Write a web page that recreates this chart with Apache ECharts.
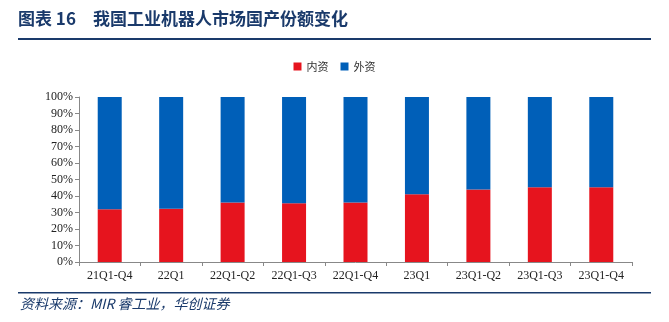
<!DOCTYPE html>
<html><head><meta charset="utf-8">
<script src="https://cdn.jsdelivr.net/npm/echarts@6/dist/echarts.min.js"></script>
<style>html,body{margin:0;padding:0;background:#fff;}#c{width:669px;height:322px;}</style>
</head><body><div id="c"></div>
<script>
const categories = ['21Q1-Q4','22Q1','22Q1-Q2','22Q1-Q3','22Q1-Q4','23Q1','23Q1-Q2','23Q1-Q3','23Q1-Q4'];
const domestic = [31.9, 32.2, 36.1, 35.6, 36.0, 41.0, 44.0, 45.3, 45.3];
const foreign = [68.1, 67.8, 63.9, 64.4, 64.0, 59.0, 56.0, 54.7, 54.7];
const seriesNames = ['内资','外资'];
const titleText = '图表 16　我国工业机器人市场国产份额变化';
const sourceText = '资料来源：MIR 睿工业，华创证券';

const chart = echarts.init(document.getElementById('c'));
const serif = '"Liberation Serif", "Times New Roman", serif';
chart.setOption({
  animation: false,
  graphic: [
    {type:'text', left:18, top:10, style:{text:titleText, font:'bold 17px "Noto Sans CJK SC"', fill:'#1a3a6b'}},
    {type:'rect', shape:{x:18, y:38, width:633, height:2}, style:{fill:'#1a3a6b'}},
    {type:'rect', shape:{x:18, y:292, width:633, height:1.5}, style:{fill:'#1a3a6b'}},
    {type:'text', left:20, top:297, style:{text:sourceText, font:'italic 14px "Noto Sans CJK SC"', fill:'#1a3a6b'}}
  ],
  legend: {
    top: 56, left: 'center', itemWidth: 8, itemHeight: 8, itemGap: 12,
    icon: 'rect',
    textStyle: {fontSize: 11, color: '#333', fontFamily: '"Noto Sans CJK SC"'},
    data: seriesNames
  },
  grid: {left: 79, right: 37, top: 97, bottom: 60},
  xAxis: {
    type: 'category', data: categories,
    axisLine: {lineStyle: {color: '#888'}},
    axisTick: {show: true, lineStyle: {color: '#888'}, length: 4},
    axisLabel: {color: '#222', fontFamily: serif, fontSize: 12, margin: 8}
  },
  yAxis: {
    type: 'value', min: 0, max: 100, interval: 10,
    axisLine: {show: true, lineStyle: {color: '#888'}},
    axisTick: {show: true, lineStyle: {color: '#888'}, length: 4},
    splitLine: {show: false},
    axisLabel: {formatter: '{value}%', color: '#222', fontFamily: serif, fontSize: 12, margin: 6}
  },
  series: [
    {name: seriesNames[0], type: 'bar', stack: 's', data: domestic, barWidth: 24, itemStyle: {color: '#e6141e'}},
    {name: seriesNames[1], type: 'bar', stack: 's', data: foreign, barWidth: 24, itemStyle: {color: '#005fb8'}}
  ]
});
</script></body></html>
